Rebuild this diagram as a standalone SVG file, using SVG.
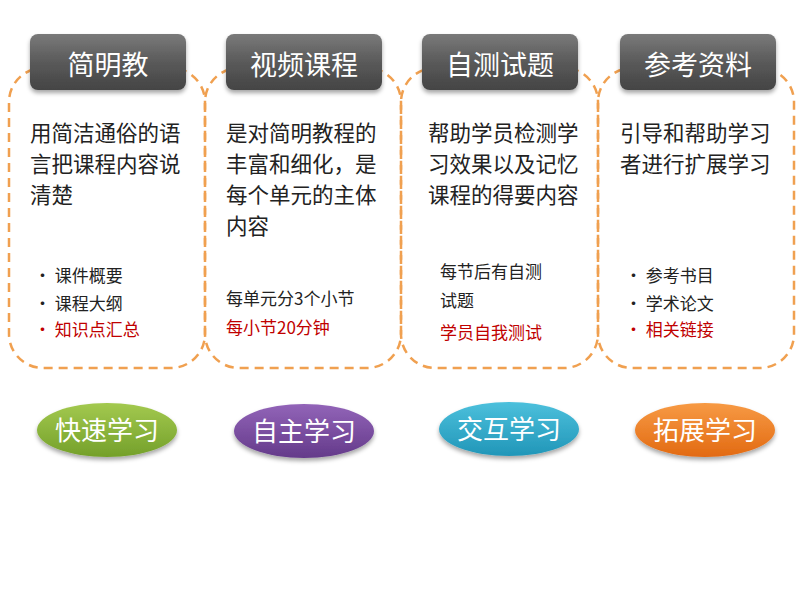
<svg xmlns="http://www.w3.org/2000/svg" width="800" height="600" viewBox="0 0 800 600">
<defs>
<linearGradient id="hd" x1="0" y1="0" x2="0" y2="1"><stop offset="0" stop-color="#7a7a7a"/><stop offset="0.5" stop-color="#5a5a5a"/><stop offset="1" stop-color="#444"/></linearGradient>
<linearGradient id="g1" x1="0" y1="0" x2="0" y2="1"><stop offset="0" stop-color="#a3c94f"/><stop offset="1" stop-color="#74a02a"/></linearGradient>
<linearGradient id="g2" x1="0" y1="0" x2="0" y2="1"><stop offset="0" stop-color="#9264b8"/><stop offset="1" stop-color="#643a8a"/></linearGradient>
<linearGradient id="g3" x1="0" y1="0" x2="0" y2="1"><stop offset="0" stop-color="#4cc0dc"/><stop offset="1" stop-color="#2196b8"/></linearGradient>
<linearGradient id="g4" x1="0" y1="0" x2="0" y2="1"><stop offset="0" stop-color="#f79a44"/><stop offset="1" stop-color="#e26a12"/></linearGradient>
<filter id="sh" x="-20%" y="-20%" width="140%" height="150%"><feDropShadow dx="0" dy="3" stdDeviation="2" flood-color="#000" flood-opacity="0.35"/></filter>
</defs>
<style>
text{font-family:"Noto Sans CJK SC","Liberation Sans",sans-serif}
.box{fill:none;stroke:#f0a050;stroke-width:2.5;stroke-dasharray:9 6}
.hd{fill:url(#hd);filter:url(#sh)}
.ht{fill:#fff;font-size:27px;text-anchor:middle}
.b{fill:#222;font-size:21.5px}
.s{fill:#222;font-size:17px}
.r{fill:#c00000}
.et{fill:#fff;font-size:26px;text-anchor:middle}
</style>
<rect width="800" height="600" fill="#fff"/>
<g id="n1">
<rect class="box" x="9" y="68" width="196" height="300" rx="34"/>
<rect class="hd" x="30" y="34" width="156" height="56" rx="8"/>
<text class="ht" x="108" y="75">简明教</text>
<text class="b" x="30" y="141">用简洁通俗的语</text>
<text class="b" x="30" y="172">言把课程内容说</text>
<text class="b" x="30" y="203">清楚</text>
<text class="s" x="34" y="282">• 课件概要</text>
<text class="s" x="34" y="310">• 课程大纲</text>
<text class="s r" x="34" y="336">• 知识点汇总</text>
</g>
<g id="n2">
<rect class="box" x="205" y="68" width="196" height="300" rx="34"/>
<rect class="hd" x="226" y="34" width="156" height="56" rx="8"/>
<text class="ht" x="304" y="75">视频课程</text>
<text class="b" x="226" y="141">是对简明教程的</text>
<text class="b" x="226" y="172">丰富和细化，是</text>
<text class="b" x="226" y="203">每个单元的主体</text>
<text class="b" x="226" y="234">内容</text>
<text class="s" x="226" y="305">每单元分3个小节</text>
<text class="s r" x="226" y="334">每小节20分钟</text>
</g>
<g id="n3">
<rect class="box" x="401" y="68" width="197" height="300" rx="34"/>
<rect class="hd" x="422" y="34" width="156" height="56" rx="8"/>
<text class="ht" x="500" y="75">自测试题</text>
<text class="b" x="428" y="141">帮助学员检测学</text>
<text class="b" x="428" y="172">习效果以及记忆</text>
<text class="b" x="428" y="203">课程的得要内容</text>
<text class="s" x="440" y="278">每节后有自测</text>
<text class="s" x="440" y="307">试题</text>
<text class="s r" x="440" y="339">学员自我测试</text>
</g>
<g id="n4">
<rect class="box" x="598" y="68" width="196" height="300" rx="34"/>
<rect class="hd" x="620" y="34" width="156" height="56" rx="8"/>
<text class="ht" x="698" y="75">参考资料</text>
<text class="b" x="620" y="141">引导和帮助学习</text>
<text class="b" x="620" y="172">者进行扩展学习</text>
<text class="s" x="625" y="282">•  参考书目</text>
<text class="s" x="625" y="310">•  学术论文</text>
<text class="s r" x="625" y="336">•  相关链接</text>
</g>
<g id="e1"><ellipse cx="107" cy="430" rx="70" ry="27" fill="url(#g1)" filter="url(#sh)"/><text class="et" x="107" y="440">快速学习</text></g>
<g id="e2"><ellipse cx="304" cy="431" rx="70" ry="27" fill="url(#g2)" filter="url(#sh)"/><text class="et" x="304" y="441">自主学习</text></g>
<g id="e3"><ellipse cx="509" cy="429" rx="70" ry="27" fill="url(#g3)" filter="url(#sh)"/><text class="et" x="509" y="439">交互学习</text></g>
<g id="e4"><ellipse cx="705" cy="430" rx="70" ry="27" fill="url(#g4)" filter="url(#sh)"/><text class="et" x="705" y="440">拓展学习</text></g>
<g id="connectors"/>
</svg>
